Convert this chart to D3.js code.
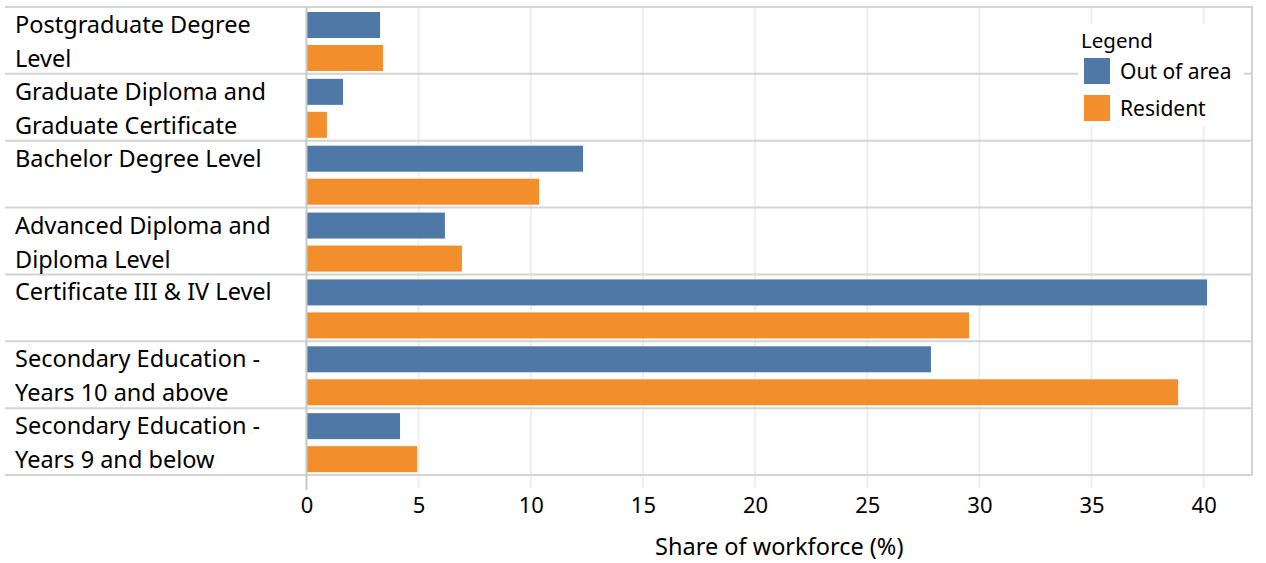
<!DOCTYPE html>
<html><head><meta charset="utf-8">
<script src="https://cdn.jsdelivr.net/npm/d3@7"></script>
<style>body{margin:0;background:#fff}svg{display:block}text{font-family:"Noto Sans",sans-serif;fill:#000}</style>
</head><body><svg id="c" width="1266" height="563"></svg>
<script>
const categories = [
  ["Postgraduate Degree","Level"],
  ["Graduate Diploma and","Graduate Certificate"],
  ["Bachelor Degree Level"],
  ["Advanced Diploma and","Diploma Level"],
  ["Certificate III & IV Level"],
  ["Secondary Education -","Years 10 and above"],
  ["Secondary Education -","Years 9 and below"]
];
const seriesNames = ["Out of area","Resident"];
const outOfArea = [3.28, 1.63, 12.33, 6.17, 40.15, 27.84, 4.17];
const resident  = [3.41, 0.91, 10.37, 6.93, 29.54, 38.86, 4.93];
const xTicks = [0,5,10,15,20,25,30,35,40];
const colors = ["#4e79a7","#f28e2b"];

(function(){
const svg = d3.select("#c");
const pL = 306.5, pR = 1252, pT = 7, pB = 475, labelLeft = 5;
const x = d3.scaleLinear().domain([0,40]).range([pL, pL + 40*22.43]);
const keys = categories.map((d,i)=>i);
const y = d3.scaleBand().domain(keys).range([pT,pB]);
const rowH = y.bandwidth();

svg.append("g").selectAll("line").data(xTicks.slice(1)).join("line")
  .attr("x1",d=>x(d)).attr("x2",d=>x(d)).attr("y1",pT).attr("y2",488)
  .attr("stroke","#efefef").attr("stroke-width",2);

const values = [outOfArea, resident];
const offs = [5, 38];
values.forEach((vals,si)=>{
  svg.append("g").selectAll("rect").data(vals).join("rect")
    .attr("x", x(0)+0.5).attr("y",(d,i)=>y(i)+offs[si])
    .attr("width", d=>x(d)-x(0)-0.5).attr("height",26)
    .attr("fill",colors[si]);
});

svg.append("g").selectAll("line").data(d3.range(categories.length+1)).join("line")
  .attr("x1",labelLeft).attr("x2",pR)
  .attr("y1",i=>pT+i*rowH).attr("y2",i=>pT+i*rowH)
  .attr("stroke","#d4d4d4").attr("stroke-width",2);

svg.append("line").attr("x1",pL).attr("x2",pL).attr("y1",pT).attr("y2",490)
  .attr("stroke","#c8c8c8").attr("stroke-width",2);
svg.append("line").attr("x1",pR).attr("x2",pR).attr("y1",pT-1).attr("y2",476)
  .attr("stroke","#d4d4d4").attr("stroke-width",2);

const lab = svg.append("g").selectAll("text").data(categories).join("text")
  .attr("x",15).attr("y",(d,i)=>y(i)+26).style("font-size","23.5px");
lab.selectAll("tspan").data(d=>d).join("tspan")
  .attr("x",15).attr("dy",(d,j)=>j===0?0:34).text(d=>d);

const ax = svg.append("g").attr("transform",`translate(0,513)`)
  .call(d3.axisBottom(x).tickValues(xTicks).tickSize(0).tickPadding(0).tickFormat(d3.format("d")));
ax.select(".domain").remove();
ax.selectAll("text").attr("dy",0).style("font-size","22px").style("font-family",'"Noto Sans",sans-serif').attr("fill","#000");

svg.append("text").attr("x",(pL+pR)/2).attr("y",555).attr("text-anchor","middle")
  .style("font-size","23.5px").text("Share of workforce (%)");

const lg = svg.append("g");
lg.append("rect").attr("x",1078).attr("y",24).attr("width",166).attr("height",102).attr("fill","#fff");
lg.append("text").attr("x",1081).attr("y",48).style("font-size","20.5px").text("Legend");
seriesNames.forEach((n,i)=>{
  lg.append("rect").attr("x",1084).attr("y",58+i*37).attr("width",26).attr("height",26).attr("fill",colors[i]);
  lg.append("text").attr("x",1120).attr("y",79+i*37).style("font-size","21px").text(n);
});
})();
</script></body></html>
